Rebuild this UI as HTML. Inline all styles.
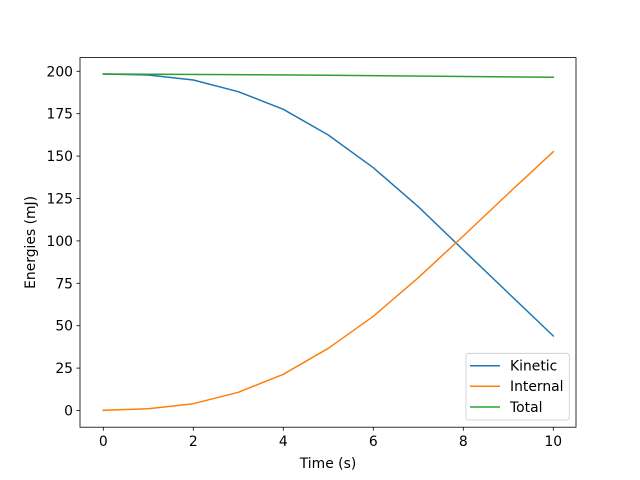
<!DOCTYPE html>
<html><head><meta charset="utf-8"><style>
html,body{margin:0;padding:0;background:#fff;}
svg{display:block;}
text{font-family:"DejaVu Sans","Liberation Sans",sans-serif;font-size:13.9px;fill:#000;}
</style></head><body>
<svg width="640" height="480" viewBox="0 0 640 480" xmlns="http://www.w3.org/2000/svg">
<rect x="0" y="0" width="640" height="480" fill="#fff"/>
<g fill="none" stroke-width="1.5" stroke-linejoin="round" stroke-linecap="square">
<polyline stroke="#1f77b4" points="103.3,74 148.3,75 193.3,80 238.3,91.7 283.3,109.3 328.3,135 373.3,167.7 418.3,206.7 463.3,250 508.3,293 553.3,336"/>
<polyline stroke="#ff7f0e" points="103.3,410.3 148.3,408.7 193.3,403.7 238.3,392.3 283.3,374.3 328.3,348.3 373.3,316.3 418.3,277.7 463.3,236 508.3,193.5 553.3,151.7"/>
<polyline stroke="#2ca02c" points="103.3,74 328.3,75.2 553.3,77.3"/>
</g>
<rect x="80" y="57.6" width="496" height="369.6" fill="none" stroke="#000" stroke-width="0.8"/>
<g stroke="#000" stroke-width="0.8">
<line x1="103.3" y1="427.2" x2="103.3" y2="430.7"/>
<line x1="193.3" y1="427.2" x2="193.3" y2="430.7"/>
<line x1="283.3" y1="427.2" x2="283.3" y2="430.7"/>
<line x1="373.3" y1="427.2" x2="373.3" y2="430.7"/>
<line x1="463.3" y1="427.2" x2="463.3" y2="430.7"/>
<line x1="553.3" y1="427.2" x2="553.3" y2="430.7"/>
<line x1="76.5" y1="410.5" x2="80" y2="410.5"/>
<line x1="76.5" y1="368.1" x2="80" y2="368.1"/>
<line x1="76.5" y1="325.7" x2="80" y2="325.7"/>
<line x1="76.5" y1="283.3" x2="80" y2="283.3"/>
<line x1="76.5" y1="240.9" x2="80" y2="240.9"/>
<line x1="76.5" y1="198.5" x2="80" y2="198.5"/>
<line x1="76.5" y1="156.1" x2="80" y2="156.1"/>
<line x1="76.5" y1="113.7" x2="80" y2="113.7"/>
<line x1="76.5" y1="71.3" x2="80" y2="71.3"/>
</g>
<g text-anchor="middle">
<text x="103.3" y="446">0</text>
<text x="193.3" y="446">2</text>
<text x="283.3" y="446">4</text>
<text x="373.3" y="446">6</text>
<text x="463.3" y="446">8</text>
<text x="553.3" y="446">10</text>
<text x="328" y="468">Time (s)</text>
</g>
<g text-anchor="end">
<text x="73" y="415.5">0</text>
<text x="73" y="373.1">25</text>
<text x="73" y="330.7">50</text>
<text x="73" y="288.3">75</text>
<text x="73" y="245.9">100</text>
<text x="73" y="203.5">125</text>
<text x="73" y="161.1">150</text>
<text x="73" y="118.7">175</text>
<text x="73" y="76.3">200</text>
</g>
<text x="35" y="242.4" text-anchor="middle" transform="rotate(-90 35 242.4)">Energies (mJ)</text>
<rect x="466" y="353.3" width="103.3" height="66.7" rx="2.5" fill="#fff" fill-opacity="0.8" stroke="#ccc" stroke-width="0.8"/>
<g stroke-width="1.5" fill="none">
<line x1="470" y1="365.7" x2="500" y2="365.7" stroke="#1f77b4"/>
<line x1="470" y1="386.3" x2="500" y2="386.3" stroke="#ff7f0e"/>
<line x1="470" y1="407" x2="500" y2="407" stroke="#2ca02c"/>
</g>
<text x="510" y="370.5">Kinetic</text>
<text x="510" y="391.1">Internal</text>
<text x="510" y="411.8">Total</text>
</svg>
</body></html>
